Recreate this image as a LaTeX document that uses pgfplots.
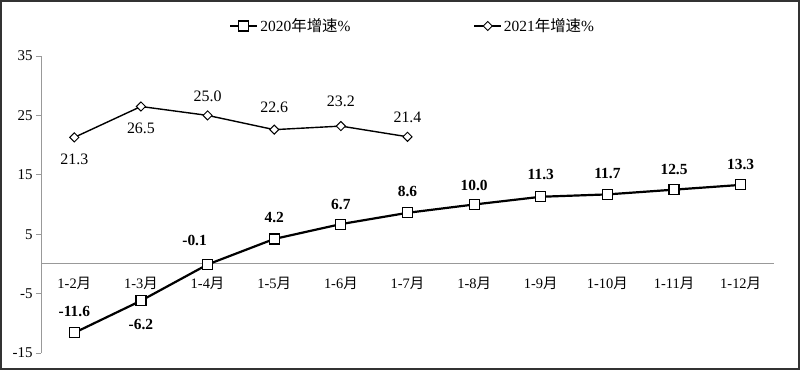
\documentclass[border=0pt]{standalone}
\usepackage{fontspec}
\setmainfont{Liberation Serif}
\newfontfamily\cjk{Noto Sans CJK SC}
\usepackage{pgfplots}
\usepackage{pgfplotstable}
\pgfplotsset{compat=1.18}

\pgfplotstableread{
x y dx dy lab
0 -11.6 0 21 -11.6
1 -6.2 0 -24 -6.2
2 -0.1 -13 24 -0.1
3 4.2 0 21 4.2
4 6.7 0 20 6.7
5 8.6 0 21 8.6
6 10.0 0 19 10.0
7 11.3 0 22 11.3
8 11.7 0 21 11.7
9 12.5 0 20 12.5
10 13.3 0 20 13.3
}\seriesA

\pgfplotstableread{
x y dx dy lab
0 21.3 0 -22 21.3
1 26.5 0 -22 26.5
2 25.0 0 19 25.0
3 22.6 0 22 22.6
4 23.2 0 25 23.2
5 21.4 0 19 21.4
}\seriesB

\begin{document}
\begin{tikzpicture}
\begin{axis}[
  width=733bp, height=297bp, scale only axis,
  xmin=-0.5, xmax=10.5, ymin=-15, ymax=35,
  axis y line=left, axis x line=middle,
  axis line style={-, draw=black!40, line width=0.9bp},
  ytick={-15,-5,5,15,25,35},
  xtick={0,...,10},
  xticklabels={1-2{\cjk 月},1-3{\cjk 月},1-4{\cjk 月},1-5{\cjk 月},1-6{\cjk 月},1-7{\cjk 月},1-8{\cjk 月},1-9{\cjk 月},1-10{\cjk 月},1-11{\cjk 月},1-12{\cjk 月}},
  x tick style={draw=none},
  y tick style={draw=black!40, line width=0.9bp},
  tick align=outside,
  major tick length=5bp,
  xticklabel style={font=\fontsize{14.5}{16}\selectfont, yshift=-5bp},
  yticklabel style={font=\fontsize{15}{17}\selectfont},
  /pgf/number format/assume math mode=true,
  clip=false,
  legend style={at={(rel axis cs:0.507,1.101)}, anchor=center, draw=none, fill=none,
    font=\fontsize{15.5}{17}\selectfont,
    /tikz/every even column/.append style={column sep=121bp}},
  legend columns=2,
  legend image code/.code={\draw[mark repeat=2,mark phase=2,#1] plot coordinates {(0bp,0bp)(13.5bp,0bp)(27bp,0bp)};},
  nodes near coords,
  point meta=explicit symbolic,
  visualization depends on={\thisrow{dx}\as\dx},
  visualization depends on={\thisrow{dy}\as\dy},
  every node near coord/.append style={anchor=center, xshift=\dx bp, yshift=\dy bp, inner sep=0pt},
]
\addplot[black, line width=2.2bp, mark=square*, mark size=5bp,
  mark options={fill=white, line width=1.2bp},
  every node near coord/.append style={font=\bfseries\fontsize{15.5}{17}\selectfont}]
  table[x=x, y=y, meta=lab]{\seriesA};
\addlegendentry{2020{\cjk 年增速}\%}
\addplot[black, line width=1.4bp, mark=square*, mark size=3.2bp,
  mark options={fill=white, line width=1bp, rotate=45},
  every node near coord/.append style={font=\fontsize{16}{18}\selectfont}]
  table[x=x, y=y, meta=lab]{\seriesB};
\addlegendentry{2021{\cjk 年增速}\%}
\end{axis}
\draw[line width=2bp, black!80] (-40bp,-16bp) rectangle (758bp,352bp);
\pgfresetboundingbox
\useasboundingbox (-41bp,-17bp) rectangle (759bp,353bp);
\end{tikzpicture}
\end{document}
